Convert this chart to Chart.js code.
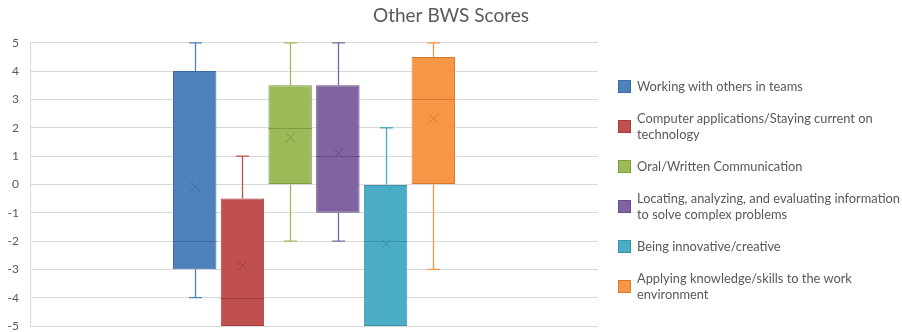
<!DOCTYPE html>
<html>
<head>
<meta charset="utf-8">
<title>Other BWS Scores</title>
<script src="https://cdn.jsdelivr.net/npm/chart.js@4.4.1/dist/chart.umd.min.js"></script>
<style>
  html, body { margin: 0; padding: 0; background: #ffffff; }
  #wrap { position: relative; width: 902px; height: 332px; overflow: hidden; }
  #chart { position: absolute; left: 0; top: 0; }
  #legend {
    position: absolute; left: 618px; top: 78px; width: 284px;
    font-family: Lato, "Open Sans", sans-serif; font-size: 12.85px; color: #595959;
  }
  .item { position: relative; padding-left: 19px; line-height: 16px; margin-bottom: 16px; white-space: nowrap; }
  .swatch { position: absolute; left: 0; top: 50%; width: 11px; height: 11px; margin-top: -6px; border: 1px solid; }
</style>
</head>
<body>
<div id="wrap">
  <canvas id="chart" width="902" height="332"></canvas>
  <div id="legend"></div>
</div>
<script>
// Skill categories (legend text, one entry per line of the label)
const skills = [
  ["Working with others in teams"],
  ["Computer applications/Staying current on", "technology"],
  ["Oral/Written Communication"],
  ["Locating, analyzing, and evaluating information", "to solve complex problems"],
  ["Being innovative/creative"],
  ["Applying knowledge/skills to the work", "environment"]
];

// Five-number summaries and means per skill
const minimums  = [-4, -5, -2, -2, -5, -3];
const lowerQuartiles = [-3, -5, 0, -1, -5, 0];
const medians   = [-2, -4, 2, 1, -2, 3];
const upperQuartiles = [4, -0.5, 3.5, 3.5, 0, 4.5];
const maximums  = [5, 1, 5, 5, 2, 5];
const means     = [-0.1, -2.87, 1.65, 1.1, -2.1, 2.33];

// Axis ticks
const yTicks = [-5, -4, -3, -2, -1, 0, 1, 2, 3, 4, 5];

const fills   = ['#4f81bd', '#c0504d', '#9bbb59', '#8064a2', '#4bacc6', '#f79646'];
const strokes = ['#3d6ba3', '#a13e3b', '#7f9c44', '#664f86', '#3a93ab', '#d57b31'];

const datasets = skills.map((lines, i) => ({
  label: lines.join(' '),
  data: [[lowerQuartiles[i], upperQuartiles[i]]],
  backgroundColor: fills[i],
  borderColor: strokes[i],
  borderWidth: 1,
  borderSkipped: false,
  categoryPercentage: 0.504,
  barPercentage: 0.91
}));

// Whiskers, median line and mean marker drawn on top of each box
const boxDetails = {
  id: 'boxDetails',
  afterDatasetsDraw(chart) {
    const ctx = chart.ctx;
    const y = chart.scales.y;
    chart.data.datasets.forEach((ds, i) => {
      const bar = chart.getDatasetMeta(i).data[0];
      if (!bar) return;
      const x = Math.round(bar.x) + 0.5;
      const half = bar.width / 2;
      const capHalf = 6.5;
      const yMin = y.getPixelForValue(minimums[i]);
      const yQ1 = y.getPixelForValue(lowerQuartiles[i]);
      const yMed = y.getPixelForValue(medians[i]);
      const yQ3 = y.getPixelForValue(upperQuartiles[i]);
      const yMax = y.getPixelForValue(maximums[i]);
      const yMean = y.getPixelForValue(means[i]);
      ctx.save();
      // whiskers
      ctx.strokeStyle = fills[i];
      ctx.lineWidth = 1.3;
      ctx.beginPath();
      if (maximums[i] > upperQuartiles[i]) {
        ctx.moveTo(x, yQ3); ctx.lineTo(x, yMax);
        ctx.moveTo(x - capHalf, yMax); ctx.lineTo(x + capHalf, yMax);
      }
      if (minimums[i] < lowerQuartiles[i]) {
        ctx.moveTo(x, yQ1); ctx.lineTo(x, yMin);
        ctx.moveTo(x - capHalf, yMin); ctx.lineTo(x + capHalf, yMin);
      }
      ctx.stroke();
      // median
      ctx.strokeStyle = strokes[i];
      ctx.lineWidth = 1;
      ctx.beginPath();
      ctx.moveTo(bar.x - half, Math.round(yMed) + 0.5);
      ctx.lineTo(bar.x + half, Math.round(yMed) + 0.5);
      ctx.stroke();
      // mean marker
      const m = 5;
      ctx.beginPath();
      ctx.moveTo(x - m, yMean - m); ctx.lineTo(x + m, yMean + m);
      ctx.moveTo(x + m, yMean - m); ctx.lineTo(x - m, yMean + m);
      ctx.stroke();
      ctx.restore();
    });
  }
};

const noEdgePadding = (scale) => { scale.paddingTop = 0; scale.paddingBottom = 0; };

new Chart(document.getElementById('chart'), {
  type: 'bar',
  data: { labels: [''], datasets },
  options: {
    responsive: false,
    animation: false,
    devicePixelRatio: 1,
    layout: { padding: { left: 0, right: 0, top: 0, bottom: 6 } },
    plugins: {
      legend: { display: false },
      tooltip: { enabled: false },
      title: {
        display: true,
        text: 'Other BWS Scores',
        color: '#595959',
        font: { family: 'Lato, "Open Sans", sans-serif', size: 19, weight: 'normal' },
        padding: { top: 4, bottom: 16 }
      }
    },
    scales: {
      x: { display: false },
      y: {
        min: yTicks[0],
        max: yTicks[yTicks.length - 1],
        afterBuildTicks(scale) { scale.ticks = yTicks.map(v => ({ value: v })); },
        afterFit(scale) { scale.width = 30; noEdgePadding(scale); },
        ticks: {
          color: '#595959',
          padding: 11,
          font: { family: 'Lato, "Open Sans", sans-serif', size: 12 }
        },
        grid: { color: '#d9d9d9', lineWidth: 1, drawTicks: false },
        border: { display: true, color: '#d9d9d9' }
      },
      // empty band on the right that holds the legend
      legendSpace: {
        type: 'linear',
        position: 'right',
        ticks: { display: false },
        grid: { display: false, drawTicks: false },
        border: { display: false },
        afterFit(scale) { scale.width = 304; noEdgePadding(scale); }
      }
    }
  },
  plugins: [boxDetails]
});

// Legend beside the plot
const legend = document.getElementById('legend');
skills.forEach((lines, i) => {
  const item = document.createElement('div');
  item.className = 'item';
  const sw = document.createElement('span');
  sw.className = 'swatch';
  sw.style.background = fills[i];
  sw.style.borderColor = strokes[i];
  item.appendChild(sw);
  lines.forEach((t, k) => {
    if (k) item.appendChild(document.createElement('br'));
    item.appendChild(document.createTextNode(t));
  });
  legend.appendChild(item);
});
</script>
</body>
</html>
